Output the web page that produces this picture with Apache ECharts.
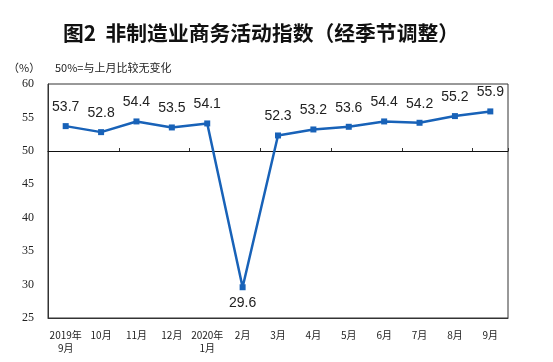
<!DOCTYPE html>
<html><head><meta charset="utf-8">
<script src="https://cdn.jsdelivr.net/npm/echarts@6/dist/echarts.min.js"></script>
<style>html,body{margin:0;padding:0;background:#fff}#c{width:553px;height:362px}</style>
</head><body><div id="c"></div>
<script>
const categories = ['2019年\n9月','10月','11月','12月','2020年\n1月','2月','3月','4月','5月','6月','7月','8月','9月'];
const values = [53.7, 52.8, 54.4, 53.5, 54.1, 29.6, 52.3, 53.2, 53.6, 54.4, 54.2, 55.2, 55.9];
const yTicks = [25, 30, 35, 40, 45, 50, 55, 60];
const titleText = '图2  非制造业商务活动指数（经季节调整）';
const unitText = '（%）';
const noteText = '50%=与上月比较无变化';

const chart = echarts.init(document.getElementById('c'), null, {renderer:'canvas'});
const cjk = '"Noto Sans CJK SC", sans-serif';
chart.setOption({
  animation: false,
  backgroundColor: '#fff',
  title: {
    text: titleText, left: 58, top: 18,
    textStyle: {fontFamily: cjk, fontSize: 20.8, fontWeight: 'bold', color: '#111'}
  },
  graphic: [
    {type:'text', left: 8, top: 62, style:{text: unitText, font: '11px ' + cjk, fill:'#222'}},
    {type:'text', left: 55, top: 62, style:{text: noteText, font: '11px ' + cjk, fill:'#222'}}
  ],
  grid: [
    {left: 48, top: 84, width: 460, height: 234, show: true, borderColor: '#333', borderWidth: 1, backgroundColor: 'transparent'},
    {left: 48, top: 84, width: 460, height: 67, show: false}
  ],
  xAxis: [
    {type:'category', gridIndex:0, data: categories, boundaryGap: true,
     axisLine:{show:true, lineStyle:{color:'#333', width:1}},
     axisTick:{show:false},
     axisLabel:{fontFamily: cjk, fontSize: 10, color:'#222', margin: 11, lineHeight: 13, interval: 0}},
    {type:'category', gridIndex:1, data: categories, boundaryGap: true, position:'bottom',
     axisLine:{show:true, onZero:false, lineStyle:{color:'#111', width:1}},
     axisTick:{show:true, inside:true, length:3, lineStyle:{color:'#333'}},
     axisLabel:{show:false}}
  ],
  yAxis: [
    {type:'value', gridIndex:0, min: yTicks[0], max: yTicks[yTicks.length-1], interval: 5,
     axisLine:{show:true, lineStyle:{color:'#333'}}, axisTick:{show:false}, splitLine:{show:false},
     axisLabel:{fontFamily:'"Liberation Serif", serif', fontSize: 12, color:'#222', margin: 14}},
    {type:'value', gridIndex:1, min: 50, max: 60, show: false}
  ],
  series: [{
    type:'line', xAxisIndex:0, yAxisIndex:0,
    symbol:'rect', symbolSize: 6, showAllSymbol: true,
    lineStyle:{color:'#1862b8', width: 2.5},
    itemStyle:{color:'#1862b8'},
    label:{show:true, position:'top', distance: 9, fontFamily:'"Liberation Sans", Arial, sans-serif', fontSize: 14, color:'#222',
      formatter: p => p.value.toFixed(1)},
    data: values.map(v => v < 40 ? {value: v, label:{position:'bottom', distance: 6}} : v)
  }]
});
</script></body></html>
